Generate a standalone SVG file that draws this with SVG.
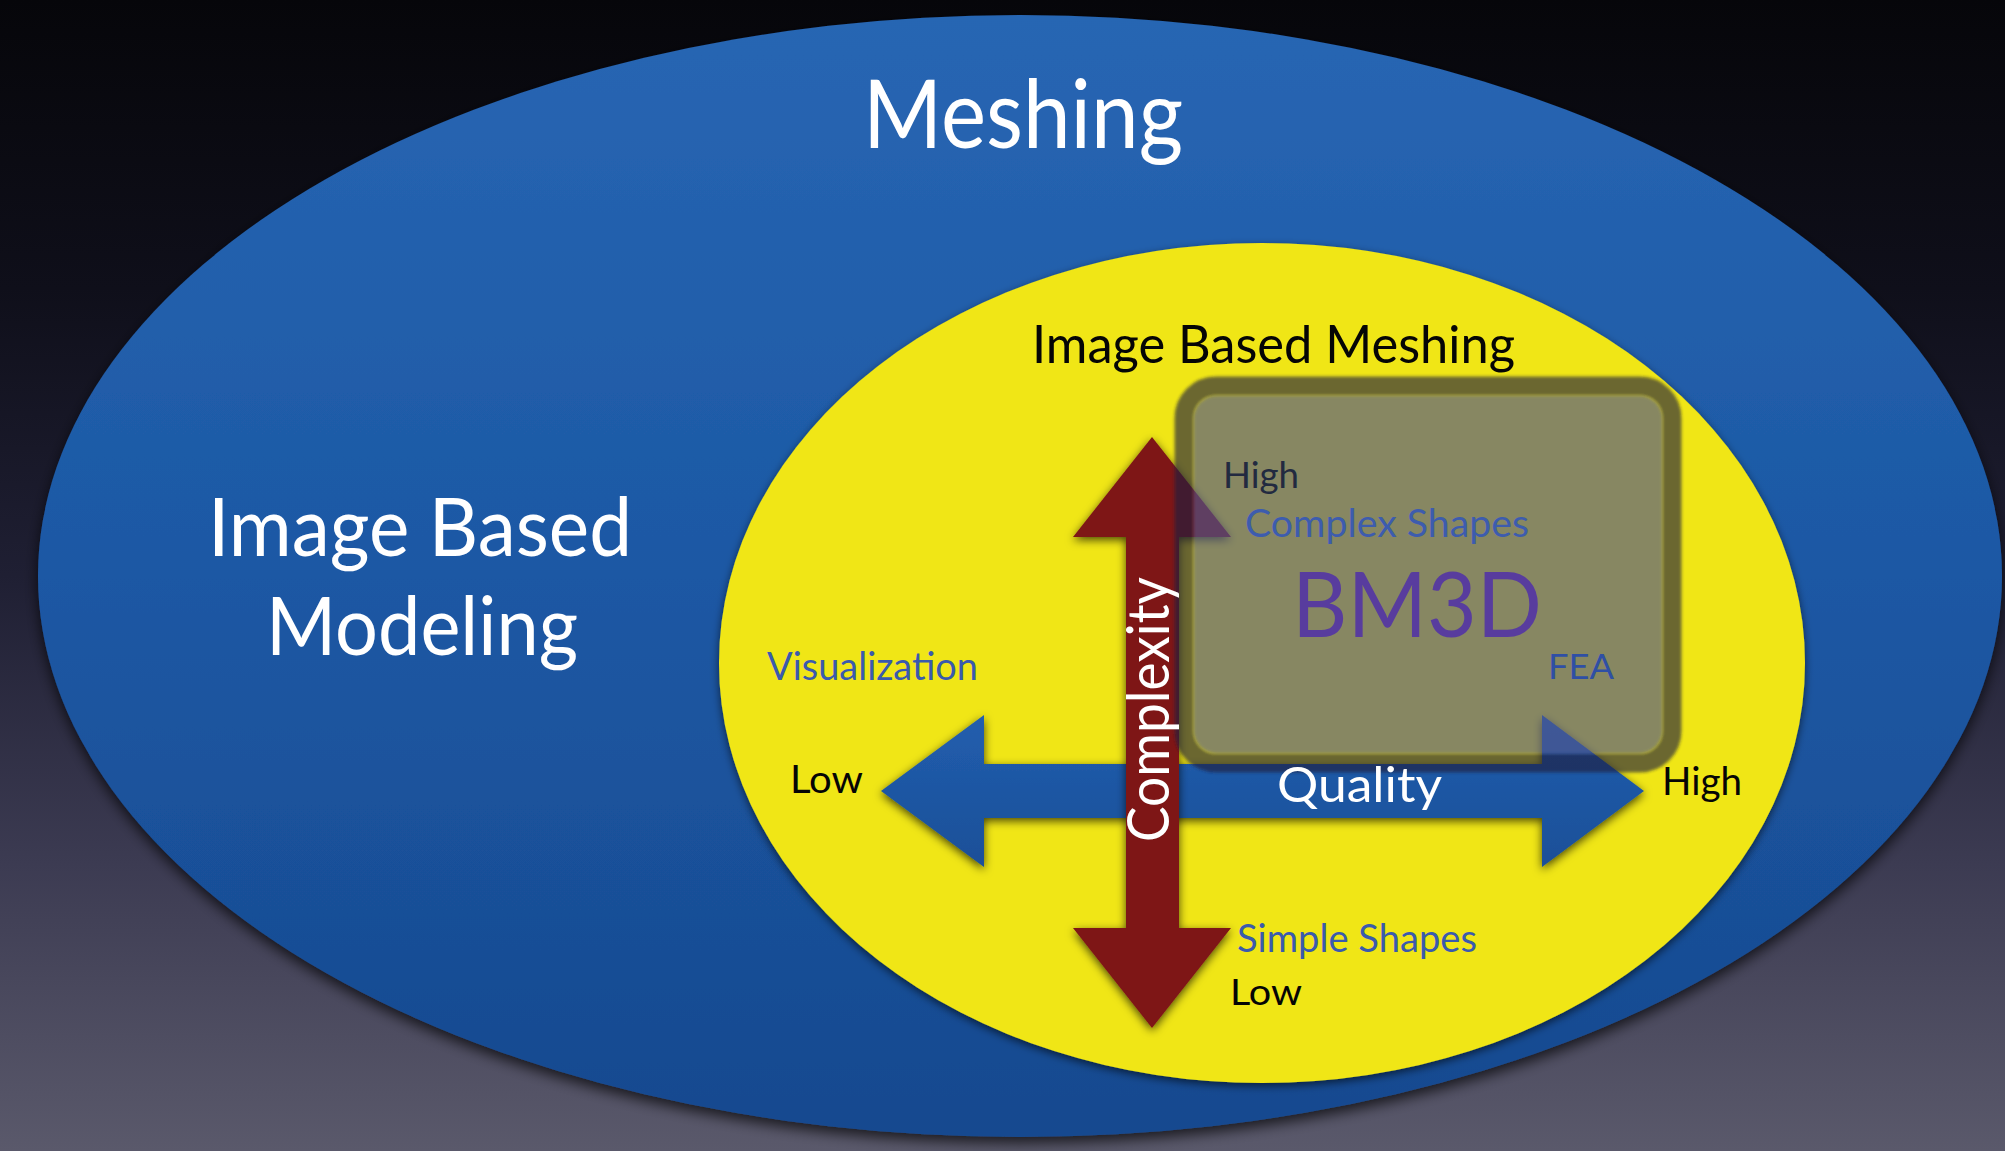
<svg xmlns="http://www.w3.org/2000/svg" width="2005" height="1151" viewBox="0 0 2005 1151">
  <defs>
    <linearGradient id="bg" x1="0" y1="0" x2="0" y2="1">
      <stop offset="0" stop-color="#06060a"/>
      <stop offset="0.25" stop-color="#0f0f1a"/>
      <stop offset="0.5" stop-color="#1f1f33"/>
      <stop offset="0.75" stop-color="#3c3b52"/>
      <stop offset="1" stop-color="#5a596b"/>
    </linearGradient>
    <linearGradient id="blueFill" gradientUnits="userSpaceOnUse" x1="0" y1="15" x2="0" y2="1137">
      <stop offset="0" stop-color="#2866b3"/>
      <stop offset="0.5" stop-color="#1c58a4"/>
      <stop offset="1" stop-color="#17498f"/>
    </linearGradient>
    <linearGradient id="arrowBlue" gradientUnits="userSpaceOnUse" x1="0" y1="715" x2="0" y2="867">
      <stop offset="0" stop-color="#225eae"/>
      <stop offset="1" stop-color="#1a4f98"/>
    </linearGradient>
    <filter id="shadowBig" x="-10%" y="-10%" width="120%" height="125%">
      <feDropShadow dx="0" dy="6" stdDeviation="7" flood-color="#000" flood-opacity="0.7"/>
    </filter>
    <filter id="shadowMid" x="-10%" y="-10%" width="120%" height="120%">
      <feDropShadow dx="0" dy="3" stdDeviation="4" flood-color="#000" flood-opacity="0.6"/>
    </filter>
    <filter id="shadowArrow" x="-20%" y="-20%" width="140%" height="140%">
      <feDropShadow dx="0" dy="3" stdDeviation="5" flood-color="#000" flood-opacity="0.7"/>
    </filter>
    <filter id="soft" x="-5%" y="-5%" width="110%" height="110%">
      <feGaussianBlur stdDeviation="1.8"/>
    </filter>
    <style>
      .gill { font-family: Lato, "Open Sans", "DejaVu Sans", sans-serif; }
      .white { fill: #ffffff; }
      .black { fill: #050505; }
      .bluetxt { fill: #3a5aad; }
    </style>
  </defs>

  <!-- backdrop -->
  <rect x="0" y="0" width="2005" height="1151" fill="url(#bg)"/>

  <!-- outer set: Meshing -->
  <g id="meshing">
    <ellipse cx="1020" cy="576" rx="982" ry="561" fill="url(#blueFill)" filter="url(#shadowBig)"/>
    <text class="gill white" x="863" y="148" font-size="95" textLength="320" lengthAdjust="spacingAndGlyphs">Meshing</text>
  </g>

  <!-- left label: Image Based Modeling -->
  <g id="image-based-modeling">
    <text class="gill white" x="208" y="556" font-size="82" textLength="424" lengthAdjust="spacingAndGlyphs">Image Based</text>
    <text class="gill white" x="266" y="655" font-size="82" textLength="312" lengthAdjust="spacingAndGlyphs">Modeling</text>
  </g>

  <!-- inner set: Image Based Meshing -->
  <g id="image-based-meshing">
    <ellipse cx="1262" cy="663" rx="543" ry="420" fill="#f0e614" filter="url(#shadowMid)"/>
    <text class="gill black" x="1032" y="363" font-size="52" textLength="483" lengthAdjust="spacingAndGlyphs">Image Based Meshing</text>
  </g>

  <!-- axes: quality (horizontal) and complexity (vertical) -->
  <g id="connectors">
    <polygon id="quality-axis" points="881,791 984,715 984,764 1542,764 1542,715 1644,791 1542,867 1542,818 984,818 984,867" fill="url(#arrowBlue)" filter="url(#shadowArrow)"/>
    <polygon id="complexity-axis" points="1152,437 1231,537 1179,537 1179,928 1231,928 1152,1028 1073,928 1126,928 1126,537 1073,537" fill="#7e1919" filter="url(#shadowArrow)"/>
  </g>

  <!-- BM3D region -->
  <g id="bm3d">
    <rect x="1184" y="386" width="488" height="377" rx="32" fill="none" stroke="#1e1e40" stroke-opacity="0.63" stroke-width="19" filter="url(#soft)"/>
    <rect x="1193.5" y="395.5" width="469" height="358" rx="23" fill="#50558c" fill-opacity="0.65" filter="url(#soft)"/>
    <text class="gill" x="1292" y="637" font-size="92" fill="#583c9e" textLength="250" lengthAdjust="spacingAndGlyphs">BM3D</text>
  </g>

  <!-- axis labels -->
  <g id="labels">
    <text class="gill" x="1223" y="488" font-size="36" fill="#222a40" textLength="76" lengthAdjust="spacingAndGlyphs">High</text>
    <text class="gill" x="1245" y="537" font-size="38" fill="#3d5cae" textLength="284" lengthAdjust="spacingAndGlyphs">Complex Shapes</text>
    <text class="gill" x="1548" y="679" font-size="34" fill="#2f4fa5" textLength="66" lengthAdjust="spacingAndGlyphs">FEA</text>
    <text class="gill bluetxt" x="767" y="680" font-size="39" textLength="211" lengthAdjust="spacingAndGlyphs">Visualization</text>
    <text class="gill black" x="790" y="793" font-size="39" textLength="73" lengthAdjust="spacingAndGlyphs">Low</text>
    <text class="gill white" x="1277" y="802" font-size="49" textLength="165" lengthAdjust="spacingAndGlyphs">Quality</text>
    <text class="gill black" x="1662" y="795" font-size="39" textLength="80" lengthAdjust="spacingAndGlyphs">High</text>
    <text class="gill bluetxt" x="1237" y="952" font-size="38" textLength="240" lengthAdjust="spacingAndGlyphs">Simple Shapes</text>
    <text class="gill black" x="1230" y="1005" font-size="36" textLength="72" lengthAdjust="spacingAndGlyphs">Low</text>
    <text class="gill white" transform="translate(1169,842) rotate(-90)" x="0" y="0" font-size="58" textLength="265" lengthAdjust="spacingAndGlyphs">Complexity</text>
  </g>
</svg>
